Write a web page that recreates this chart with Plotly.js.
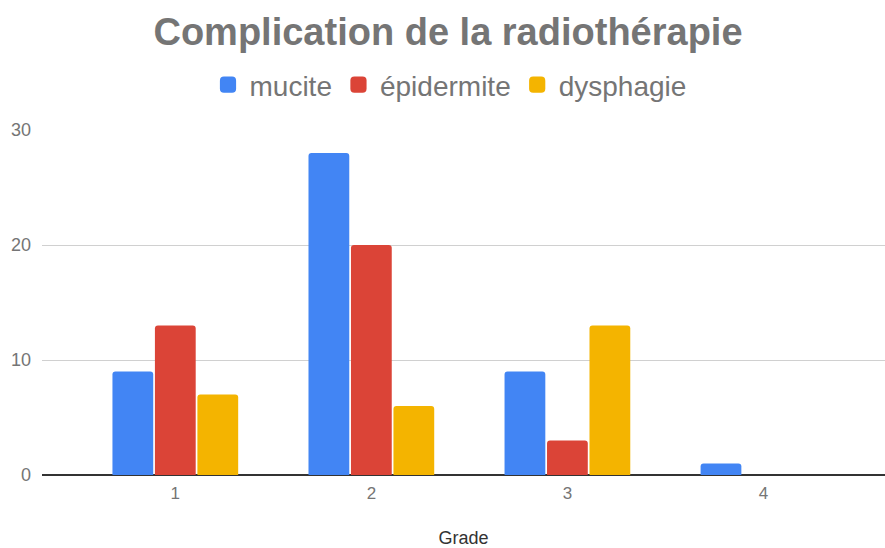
<!DOCTYPE html>
<html>
<head>
<meta charset="utf-8">
<script src="https://cdn.plot.ly/plotly-3.0.1.min.js"></script>
<style>html,body{margin:0;padding:0;background:#fff;}#chart{width:885px;height:548px;}</style>
</head>
<body>
<div id="chart"></div>
<script>
const grades = ["1", "2", "3", "4"];
const mucite = [9, 28, 9, 1];
const epidermite = [13, 20, 3, 0];
const dysphagie = [7, 6, 13, 0];
const seriesNames = ["mucite", "épidermite", "dysphagie"];
const seriesColors = ["#4285F4", "#DB4437", "#F4B400"];
const yTicks = [0, 10, 20, 30];

const FONT = "'Liberation Sans', Arial, Helvetica, sans-serif";

const allSeries = [mucite, epidermite, dysphagie];
const traces = allSeries.map((vals, i) => ({
  type: "bar",
  name: seriesNames[i],
  legendgroup: "g" + i,
  x: grades,
  y: vals,
  marker: { color: seriesColors[i], cornerradius: 3 },
  hoverinfo: "none"
}));

const layout = {
  width: 885,
  height: 548,
  paper_bgcolor: "#fff",
  plot_bgcolor: "#fff",
  font: { family: FONT, color: "#757575" },
  margin: { l: 42, r: 0, t: 130, b: 73, pad: 0 },
  title: {
    text: "<b>Complication de la radiothérapie</b>",
    font: { size: 38, color: "#757575", family: FONT },
    x: 448 / 885, xanchor: "center", xref: "container",
    y: 1 - 32 / 548, yanchor: "middle", yref: "container"
  },
  showlegend: true,
  legend: {
    orientation: "h",
    traceorder: "grouped",
    tracegroupgap: 10,
    itemwidth: 33,
    x: 449 / 885, xanchor: "center", xref: "container",
    y: 1 - 85 / 548, yanchor: "middle", yref: "container",
    font: { size: 28, color: "#757575", family: FONT },
    itemclick: false
  },
  barmode: "group",
  bargap: 0.35,
  bargroupgap: 0.04,
  xaxis: {
    type: "category",
    range: [-0.68, 3.62],
    showgrid: false,
    zeroline: false,
    showline: false,
    ticks: "",
    ticklabelstandoff: 6,
    tickfont: { size: 17, color: "#757575", family: FONT },
    title: { text: "Grade", font: { size: 18, color: "#333", family: FONT }, standoff: 32 }
  },
  yaxis: {
    range: [0, 30],
    tickvals: yTicks,
    ticktext: yTicks.map(String),
    showgrid: true,
    gridcolor: "#d0d0d0",
    gridwidth: 1,
    zeroline: true,
    zerolinecolor: "#333",
    zerolinewidth: 1.5,
    showline: false,
    ticks: "",
    ticklabelstandoff: 10,
    tickfont: { size: 18, color: "#757575", family: FONT }
  }
};

Plotly.newPlot("chart", traces, layout, { displayModeBar: false, staticPlot: true }).then(() => {
  document.querySelectorAll("#chart .legendpoints path").forEach(p => {
    const t = p.getAttribute("transform") || "";
    p.setAttribute("transform", t + " scale(1.35)");
    p.style.strokeWidth = "0";
  });
});
</script>
</body>
</html>
